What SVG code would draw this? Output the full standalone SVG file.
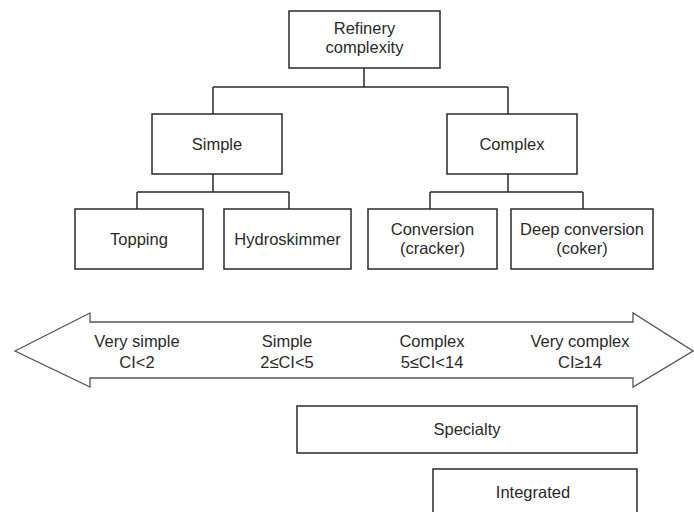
<svg xmlns="http://www.w3.org/2000/svg" width="694" height="512" viewBox="0 0 694 512">
<style>
.box{fill:#fff;stroke:#2a2a2a;stroke-width:1.5}
.t{font-family:"Liberation Sans",Arial,sans-serif;font-size:16.5px;fill:#2a2a2a;text-anchor:middle}
.c{fill:none;stroke:#2a2a2a;stroke-width:1.5}
.arrow{fill:#fff;stroke:#555;stroke-width:1.3}
</style>
<rect width="694" height="512" fill="#fff"/>
<g id="connectors">
<path class="c" d="M364,68 V87 M213,87 H508 M213,87 V114 M508,87 V114"/>
<path class="c" d="M213,174 V192 M137,192 H289 M137,192 V209 M289,192 V209"/>
<path class="c" d="M508,174 V192 M430,192 H583 M430,192 V209 M583,192 V209"/>
</g>
<g id="root"><rect class="box" x="289" y="11" width="151" height="57"/><text class="t" x="364.5" y="34">Refinery</text><text class="t" x="364.5" y="53">complexity</text></g>
<g id="simple"><rect class="box" x="152" y="114" width="130" height="60"/><text class="t" x="217" y="150">Simple</text></g>
<g id="complex"><rect class="box" x="447" y="114" width="130" height="60"/><text class="t" x="512" y="150">Complex</text></g>
<g id="topping"><rect class="box" x="75" y="209" width="128" height="60"/><text class="t" x="139" y="245">Topping</text></g>
<g id="hydroskimmer"><rect class="box" x="224" y="209" width="127" height="60"/><text class="t" x="287.5" y="245">Hydroskimmer</text></g>
<g id="conversion"><rect class="box" x="368" y="209" width="129" height="60"/><text class="t" x="432.5" y="235">Conversion</text><text class="t" x="432.5" y="254">(cracker)</text></g>
<g id="deep"><rect class="box" x="511" y="209" width="142" height="60"/><text class="t" x="582" y="235">Deep conversion</text><text class="t" x="582" y="254">(coker)</text></g>
<g id="scale">
<path class="arrow" d="M15,351 L90,313 V322 H633 V313 L693,351 L633,387 V378 H90 V387 Z"/>
<text class="t" x="137" y="347">Very simple</text><text class="t" x="137" y="368">CI&lt;2</text>
<text class="t" x="287" y="347">Simple</text><text class="t" x="287" y="368">2≤CI&lt;5</text>
<text class="t" x="432" y="347">Complex</text><text class="t" x="432" y="368">5≤CI&lt;14</text>
<text class="t" x="580" y="347">Very complex</text><text class="t" x="580" y="368">CI≥14</text>
</g>
<g id="specialty"><rect class="box" x="297" y="406" width="340" height="47"/><text class="t" x="467" y="435">Specialty</text></g>
<g id="integrated"><rect class="box" x="433" y="469" width="204" height="50"/><text class="t" x="533" y="498">Integrated</text></g>
</svg>
